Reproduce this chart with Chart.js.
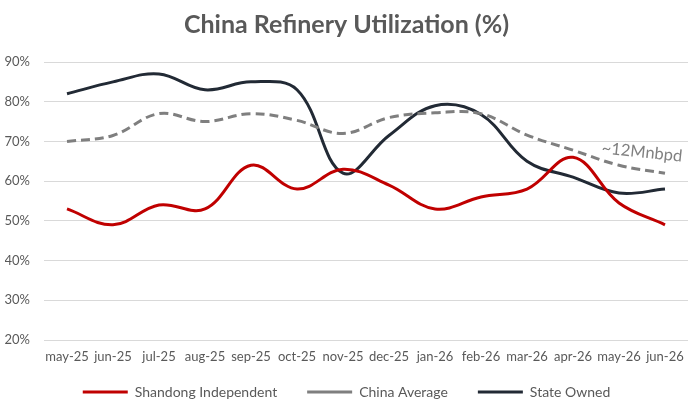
<!DOCTYPE html>
<html>
<head>
<meta charset="utf-8">
<script src="https://cdn.jsdelivr.net/npm/chart.js@4.4.0/dist/chart.umd.min.js"></script>
<style>
  html, body { margin: 0; padding: 0; background: #ffffff; }
  #wrap { width: 700px; height: 410px; position: relative; }
</style>
</head>
<body>
<div id="wrap"><canvas id="c"></canvas></div>
<script>
const categories = ['may-25','jun-25','jul-25','aug-25','sep-25','oct-25','nov-25','dec-25','jan-26','feb-26','mar-26','apr-26','may-26','jun-26'];
const shandongIndependent = [53, 49, 54, 53, 64, 58, 63, 59, 53, 56, 58, 66, 54.5, 49];
const chinaAverage = [70, 71.5, 77, 75, 77, 75.3, 72, 76, 77.2, 77, 71.6, 67.8, 64, 62];
const stateOwned = [82, 85, 87, 83, 85, 83, 62, 71.5, 79, 76.8, 65, 61, 57, 58];
const yTicks = [20, 30, 40, 50, 60, 70, 80, 90];
const chartTitle = 'China Refinery Utilization (%)';
const annotationText = '~12Mnbpd';
const annotationAt = { index: 12.5, value: 67.3 };

const FONT = 'Lato, "Open Sans", sans-serif';
const TEXT = '#595959';

const annotationPlugin = {
  id: 'annot',
  afterDatasetsDraw(chart) {
    const { ctx, scales } = chart;
    const x = scales.x.getPixelForValue(annotationAt.index);
    const y = scales.y.getPixelForValue(annotationAt.value);
    ctx.save();
    ctx.translate(x, y);
    ctx.rotate(6 * Math.PI / 180);
    ctx.font = '16.5px ' + FONT;
    ctx.fillStyle = '#808080';
    ctx.textAlign = 'center';
    ctx.textBaseline = 'middle';
    ctx.fillText(annotationText, 0, 0);
    ctx.restore();
  }
};

const legendFitPlugin = {
  id: 'legendFit',
  beforeUpdate(chart) {
    const lg = chart.legend;
    if (lg && !lg._fitPatched) {
      const orig = lg.fit;
      lg.fit = function () { orig.call(this); this.height = 44; };
      lg._fitPatched = true;
    }
  },
  afterLayout(chart) {
    const lg = chart.legend;
    if (lg) { lg.top -= 11; lg.bottom -= 11; }
  }
};

new Chart(document.getElementById('c'), {
  type: 'line',
  data: {
    labels: categories,
    datasets: [
      { label: 'Shandong Independent', data: shandongIndependent, borderColor: '#C00000', backgroundColor: '#C00000', borderWidth: 3, pointRadius: 0, tension: 0.38 },
      { label: 'China Average', data: chinaAverage, borderColor: '#7F7F7F', backgroundColor: '#7F7F7F', borderWidth: 3, borderDash: [9, 5], pointRadius: 0, tension: 0.38 },
      { label: 'State Owned', data: stateOwned, borderColor: '#222A35', backgroundColor: '#222A35', borderWidth: 3, pointRadius: 0, tension: 0.38 }
    ]
  },
  options: {
    responsive: true,
    maintainAspectRatio: false,
    animation: false,
    layout: { padding: { left: 5, right: 12, top: 0, bottom: 0 } },
    plugins: {
      title: {
        display: true,
        text: chartTitle,
        color: TEXT,
        font: { family: FONT, size: 25, weight: 'bold' },
        padding: { top: 10, bottom: 22 }
      },
      legend: {
        position: 'bottom',
        labels: {
          color: TEXT,
          font: { family: FONT, size: 14 },
          usePointStyle: true,
          pointStyle: 'line',
          pointStyleWidth: 45,
          padding: 30
        }
      },
      tooltip: { enabled: false }
    },
    scales: {
      x: {
        offset: true,
        afterFit(scale) { scale.height = 26; },
        grid: { display: false, drawTicks: false },
        border: { display: false },
        ticks: { color: TEXT, font: { family: FONT, size: 13 }, maxRotation: 0, autoSkip: false, padding: 9 }
      },
      y: {
        min: 20, max: 90,
        afterBuildTicks(scale) { scale.ticks = yTicks.map(v => ({ value: v })); },
        afterFit(scale) { scale.width = 39; },
        grid: { color: '#D9D9D9', lineWidth: 1, drawTicks: false },
        border: { display: false },
        ticks: { color: TEXT, font: { family: FONT, size: 13 }, padding: 14, callback: v => v + '%' }
      }
    }
  },
  plugins: [annotationPlugin, legendFitPlugin]
});
</script>
</body>
</html>
